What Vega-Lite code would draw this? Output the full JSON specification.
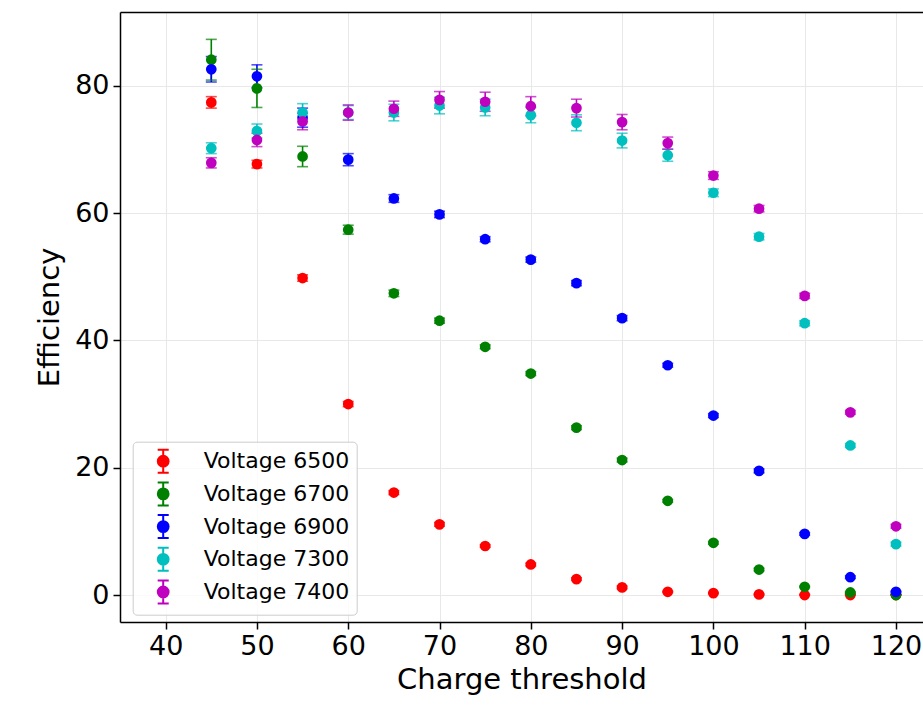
{
  "$schema": "https://vega.github.io/schema/vega-lite/v6.json",
  "autosize": {"type": "none"},
  "width": 803,
  "height": 610,
  "padding": {"left": 120, "top": 12, "right": 0, "bottom": 84},
  "background": "white",
  "config": {
    "font": "DejaVu Sans",
    "view": {"stroke": null},
    "axis": {
      "domainColor": "black",
      "domainWidth": 1.5,
      "tickColor": "black",
      "tickWidth": 1.5,
      "tickSize": 7,
      "labelFont": "DejaVu Sans",
      "labelFontSize": 27,
      "labelColor": "black",
      "titleFont": "DejaVu Sans",
      "titleFontSize": 29,
      "titleFontWeight": "normal",
      "titleColor": "black",
      "gridColor": "#e8e8e8",
      "gridWidth": 1
    }
  },
  "data": {
    "values": [
      {"x": 45, "series": "Voltage 6500", "y": 77.4, "lo": 76.5, "hi": 78.3},
      {"x": 50, "series": "Voltage 6500", "y": 67.7, "lo": 67.1, "hi": 68.3},
      {"x": 55, "series": "Voltage 6500", "y": 49.8, "lo": 49.3, "hi": 50.3},
      {"x": 60, "series": "Voltage 6500", "y": 30.0, "lo": 29.6, "hi": 30.4},
      {"x": 65, "series": "Voltage 6500", "y": 16.1, "lo": 15.8, "hi": 16.4},
      {"x": 70, "series": "Voltage 6500", "y": 11.1, "lo": 10.8, "hi": 11.4},
      {"x": 75, "series": "Voltage 6500", "y": 7.7, "lo": 7.5, "hi": 7.9},
      {"x": 80, "series": "Voltage 6500", "y": 4.8, "lo": 4.6, "hi": 5.0},
      {"x": 85, "series": "Voltage 6500", "y": 2.5, "lo": 2.3, "hi": 2.7},
      {"x": 90, "series": "Voltage 6500", "y": 1.2, "lo": 1.0, "hi": 1.4},
      {"x": 95, "series": "Voltage 6500", "y": 0.5, "lo": 0.4, "hi": 0.6},
      {"x": 100, "series": "Voltage 6500", "y": 0.3, "lo": 0.2, "hi": 0.4},
      {"x": 105, "series": "Voltage 6500", "y": 0.1, "lo": 0.0, "hi": 0.2},
      {"x": 110, "series": "Voltage 6500", "y": 0.0, "lo": 0.0, "hi": 0.1},
      {"x": 115, "series": "Voltage 6500", "y": 0.0, "lo": 0.0, "hi": 0.1},
      {"x": 120, "series": "Voltage 6500", "y": 0.0, "lo": 0.0, "hi": 0.1},
      {"x": 45, "series": "Voltage 6700", "y": 84.1, "lo": 80.9, "hi": 87.3},
      {"x": 50, "series": "Voltage 6700", "y": 79.6, "lo": 76.6, "hi": 82.6},
      {"x": 55, "series": "Voltage 6700", "y": 68.9, "lo": 67.3, "hi": 70.5},
      {"x": 60, "series": "Voltage 6700", "y": 57.4, "lo": 56.7, "hi": 58.1},
      {"x": 65, "series": "Voltage 6700", "y": 47.4, "lo": 46.9, "hi": 47.9},
      {"x": 70, "series": "Voltage 6700", "y": 43.1, "lo": 42.7, "hi": 43.5},
      {"x": 75, "series": "Voltage 6700", "y": 39.0, "lo": 38.7, "hi": 39.3},
      {"x": 80, "series": "Voltage 6700", "y": 34.8, "lo": 34.5, "hi": 35.1},
      {"x": 85, "series": "Voltage 6700", "y": 26.3, "lo": 26.0, "hi": 26.6},
      {"x": 90, "series": "Voltage 6700", "y": 21.2, "lo": 20.9, "hi": 21.5},
      {"x": 95, "series": "Voltage 6700", "y": 14.8, "lo": 14.6, "hi": 15.0},
      {"x": 100, "series": "Voltage 6700", "y": 8.2, "lo": 8.0, "hi": 8.4},
      {"x": 105, "series": "Voltage 6700", "y": 4.0, "lo": 3.8, "hi": 4.2},
      {"x": 110, "series": "Voltage 6700", "y": 1.3, "lo": 1.2, "hi": 1.4},
      {"x": 115, "series": "Voltage 6700", "y": 0.4, "lo": 0.3, "hi": 0.5},
      {"x": 120, "series": "Voltage 6700", "y": 0.0, "lo": 0.0, "hi": 0.1},
      {"x": 45, "series": "Voltage 6900", "y": 82.6, "lo": 80.6, "hi": 84.6},
      {"x": 50, "series": "Voltage 6900", "y": 81.5, "lo": 79.7, "hi": 83.3},
      {"x": 55, "series": "Voltage 6900", "y": 75.0, "lo": 73.5, "hi": 76.5},
      {"x": 60, "series": "Voltage 6900", "y": 68.4, "lo": 67.45, "hi": 69.35},
      {"x": 65, "series": "Voltage 6900", "y": 62.3, "lo": 61.7, "hi": 62.9},
      {"x": 70, "series": "Voltage 6900", "y": 59.8, "lo": 59.3, "hi": 60.3},
      {"x": 75, "series": "Voltage 6900", "y": 55.9, "lo": 55.5, "hi": 56.3},
      {"x": 80, "series": "Voltage 6900", "y": 52.7, "lo": 52.3, "hi": 53.1},
      {"x": 85, "series": "Voltage 6900", "y": 49.0, "lo": 48.6, "hi": 49.4},
      {"x": 90, "series": "Voltage 6900", "y": 43.5, "lo": 43.1, "hi": 43.9},
      {"x": 95, "series": "Voltage 6900", "y": 36.1, "lo": 35.8, "hi": 36.4},
      {"x": 100, "series": "Voltage 6900", "y": 28.2, "lo": 27.9, "hi": 28.5},
      {"x": 105, "series": "Voltage 6900", "y": 19.5, "lo": 19.2, "hi": 19.8},
      {"x": 110, "series": "Voltage 6900", "y": 9.6, "lo": 9.4, "hi": 9.8},
      {"x": 115, "series": "Voltage 6900", "y": 2.8, "lo": 2.6, "hi": 3.0},
      {"x": 120, "series": "Voltage 6900", "y": 0.5, "lo": 0.4, "hi": 0.6},
      {"x": 45, "series": "Voltage 7300", "y": 70.2, "lo": 69.35, "hi": 71.05},
      {"x": 50, "series": "Voltage 7300", "y": 72.9, "lo": 71.8, "hi": 74.0},
      {"x": 55, "series": "Voltage 7300", "y": 75.8, "lo": 74.4, "hi": 77.2},
      {"x": 60, "series": "Voltage 7300", "y": 75.8, "lo": 74.7, "hi": 76.9},
      {"x": 65, "series": "Voltage 7300", "y": 75.8, "lo": 74.5, "hi": 77.1},
      {"x": 70, "series": "Voltage 7300", "y": 76.9, "lo": 75.6, "hi": 78.2},
      {"x": 75, "series": "Voltage 7300", "y": 76.6, "lo": 75.3, "hi": 77.9},
      {"x": 80, "series": "Voltage 7300", "y": 75.4, "lo": 74.2, "hi": 76.6},
      {"x": 85, "series": "Voltage 7300", "y": 74.2, "lo": 72.95, "hi": 75.45},
      {"x": 90, "series": "Voltage 7300", "y": 71.4, "lo": 70.25, "hi": 72.55},
      {"x": 95, "series": "Voltage 7300", "y": 69.1, "lo": 68.15, "hi": 70.05},
      {"x": 100, "series": "Voltage 7300", "y": 63.2, "lo": 62.6, "hi": 63.8},
      {"x": 105, "series": "Voltage 7300", "y": 56.3, "lo": 55.8, "hi": 56.8},
      {"x": 110, "series": "Voltage 7300", "y": 42.7, "lo": 42.3, "hi": 43.1},
      {"x": 115, "series": "Voltage 7300", "y": 23.5, "lo": 23.2, "hi": 23.8},
      {"x": 120, "series": "Voltage 7300", "y": 8.0, "lo": 7.7, "hi": 8.3},
      {"x": 45, "series": "Voltage 7400", "y": 67.9, "lo": 67.1, "hi": 68.7},
      {"x": 50, "series": "Voltage 7400", "y": 71.5, "lo": 70.45, "hi": 72.55},
      {"x": 55, "series": "Voltage 7400", "y": 74.4, "lo": 73.1, "hi": 75.7},
      {"x": 60, "series": "Voltage 7400", "y": 75.8, "lo": 74.6, "hi": 77.0},
      {"x": 65, "series": "Voltage 7400", "y": 76.4, "lo": 75.2, "hi": 77.6},
      {"x": 70, "series": "Voltage 7400", "y": 77.8, "lo": 76.5, "hi": 79.1},
      {"x": 75, "series": "Voltage 7400", "y": 77.5, "lo": 76.0, "hi": 79.0},
      {"x": 80, "series": "Voltage 7400", "y": 76.8, "lo": 75.3, "hi": 78.3},
      {"x": 85, "series": "Voltage 7400", "y": 76.5, "lo": 75.1, "hi": 77.9},
      {"x": 90, "series": "Voltage 7400", "y": 74.3, "lo": 73.1, "hi": 75.5},
      {"x": 95, "series": "Voltage 7400", "y": 71.0, "lo": 70.05, "hi": 71.95},
      {"x": 100, "series": "Voltage 7400", "y": 65.9, "lo": 65.3, "hi": 66.5},
      {"x": 105, "series": "Voltage 7400", "y": 60.7, "lo": 60.2, "hi": 61.2},
      {"x": 110, "series": "Voltage 7400", "y": 47.0, "lo": 46.6, "hi": 47.4},
      {"x": 115, "series": "Voltage 7400", "y": 28.7, "lo": 28.4, "hi": 29.0},
      {"x": 120, "series": "Voltage 7400", "y": 10.8, "lo": 10.5, "hi": 11.1}
    ]
  },
  "resolve": {"axis": {"x": "independent", "y": "independent"}, "legend": {"color": "independent"}},
  "layer": [
    {
      "mark": {"type": "rule", "strokeWidth": 1.6},
      "encoding": {
        "x": {"field": "x", "type": "quantitative",
              "scale": {"domain": [35, 122.96], "nice": false, "zero": false},
              "axis": {"values": [40, 50, 60, 70, 80, 90, 100, 110, 120], "title": "Charge threshold", "grid": true, "labelPadding": 4, "titlePadding": 6}},
        "y": {"field": "lo", "type": "quantitative",
              "scale": {"domain": [-4.24, 91.6], "nice": false, "zero": false},
              "axis": {"values": [0, 20, 40, 60, 80], "title": "Efficiency", "grid": true, "labelPadding": 4, "titlePadding": 10}},
        "y2": {"field": "hi"},
        "color": {"field": "series", "type": "nominal",
                  "scale": {"domain": ["Voltage 6500", "Voltage 6700", "Voltage 6900", "Voltage 7300", "Voltage 7400"],
                            "range": ["#ff0000", "#008000", "#0000ff", "#00bfbf", "#bf00bf"]},
                  "legend": {
                    "orient": "none",
                    "legendX": 12.7,
                    "legendY": 429.7,
                    "title": null,
                    "symbolType": "M-0.48,-1L0.48,-1M0,-1L0,1M-0.48,1L0.48,1M0.47,0A0.47,0.47,0,1,1,-0.47,0A0.47,0.47,0,1,1,0.47,0M0.35,0A0.35,0.35,0,1,1,-0.35,0A0.35,0.35,0,1,1,0.35,0M0.226,0A0.226,0.226,0,1,1,-0.226,0A0.226,0.226,0,1,1,0.226,0M0.104,0A0.104,0.104,0,1,1,-0.104,0A0.104,0.104,0,1,1,0.104,0M0.03,0A0.03,0.03,0,1,1,-0.03,0A0.03,0.03,0,1,1,0.03,0",
                    "symbolSize": 529,
                    "symbolStrokeWidth": 2,
                    "symbolOffset": 11,
                    "symbolOpacity": 1,
                    "labelFont": "DejaVu Sans",
                    "labelFontSize": 22,
                    "labelColor": "black",
                    "labelOffset": 28,
                    "padding": 7,
                    "rowPadding": 1.7,
                    "fillColor": "rgba(255,255,255,0.8)",
                    "strokeColor": "#cccccc",
                    "cornerRadius": 4
                  }}
      }
    },
    {
      "mark": {"type": "tick", "orient": "horizontal", "size": 11, "thickness": 1.6},
      "encoding": {
        "x": {"field": "x", "type": "quantitative",
              "axis": {"orient": "top", "labels": false, "ticks": false, "grid": false, "title": null, "domain": true}},
        "y": {"field": "hi", "type": "quantitative", "axis": null},
        "color": {"field": "series", "type": "nominal", "legend": null}
      }
    },
    {
      "mark": {"type": "tick", "orient": "horizontal", "size": 11, "thickness": 1.6},
      "encoding": {
        "x": {"field": "x", "type": "quantitative", "axis": null},
        "y": {"field": "lo", "type": "quantitative", "axis": null},
        "color": {"field": "series", "type": "nominal", "legend": null}
      }
    },
    {
      "mark": {"type": "point", "filled": true, "size": 115, "opacity": 1},
      "encoding": {
        "x": {"field": "x", "type": "quantitative", "axis": null},
        "y": {"field": "y", "type": "quantitative", "axis": null},
        "color": {"field": "series", "type": "nominal", "legend": null}
      }
    }
  ]
}
